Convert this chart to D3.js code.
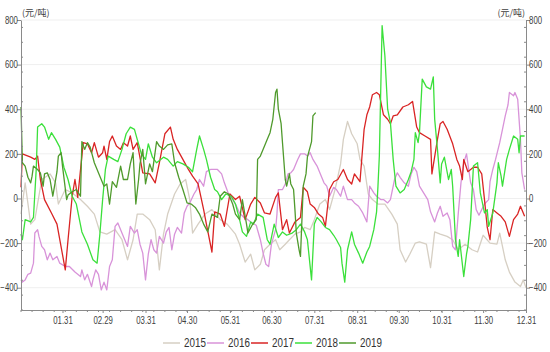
<!DOCTYPE html>
<html>
<head>
<meta charset="utf-8">
<script src="https://cdn.jsdelivr.net/npm/d3@7"></script>
<style>
  body { margin: 0; background: #fff; }
  text { font-family: "Liberation Sans", Arial, sans-serif; fill: #404040; }
</style>
</head>
<body>
<div id="viz"></div>
<script>
var years = ['2015', '2016', '2017', '2018', '2019'];
var colors = ['#d6cfc3', '#d893d9', '#d92424', '#3be03b', '#4f9a2c'];

// [day of year, value]
var s2015 = [[0,-70],[3,70],[7,-115],[10,-95],[15,85],[21,110],[25,70],[27,-25],[32,40],[37,25],[43,-5],[48,-35],
  [53,-70],[57,-150],[62,-160],[68,-140],[73,-185],[77,-275],[81,-185],[84,-70],[88,-70],[93,-95],[97,-140],[100,-320],
  [103,-160],[106,-70],[111,20],[115,65],[119,85],[122,-5],[124,-155],[128,-115],[133,-70],[138,-50],[144,-95],[149,-115],
  [155,-160],[158,-205],[162,-285],[166,-250],[169,-320],[173,-295],[176,-230],[180,-205],[184,-185],[187,-230],[191,-205],
  [194,-185],[198,-160],[202,-150],[205,-130],[209,-140],[212,-95],[216,-25],[220,-5],[223,-50],[227,40],[231,155],
  [233,265],[236,345],[239,290],[243,245],[245,175],[248,145],[251,20],[254,-5],[258,-25],[263,-25],[268,-70],[272,-115],
  [274,-230],[278,-285],[281,-250],[285,-200],[288,-195],[293,-205],[296,-310],[299,-150],[303,-160],[308,-170],[312,-185],
  [316,-230],[321,-205],[326,-230],[330,-240],[334,-165],[339,-200],[344,-205],[346,-155],[350,-275],[353,-330],[357,-375],
  [361,-395],[363,-365],[365,-400]];

var s2016 = [[0,-365],[1,-375],[3,-365],[5,-340],[7,-335],[9,-290],[10,-155],[12,-140],[13,-170],[15,-215],[17,-230],
  [19,-275],[21,-245],[23,-275],[26,-260],[28,-290],[32,-305],[35,-305],[39,-330],[43,-350],[44,-320],[46,-365],[48,-340],
  [51,-395],[52,-365],[54,-320],[56,-340],[58,-410],[60,-375],[62,-410],[64,-305],[66,-275],[68,-125],[70,-110],[72,-140],
  [74,-170],[77,-215],[79,-125],[82,-155],[84,-140],[86,-205],[88,-245],[90,-365],[92,-250],[94,-185],[96,-230],[98,-245],
  [100,-170],[103,-200],[105,-150],[107,-130],[109,-230],[111,-160],[113,-130],[116,-155],[118,-65],[120,-35],[122,-20],
  [125,20],[127,40],[129,85],[132,55],[134,120],[137,130],[140,130],[142,130],[145,110],[147,70],[150,20],[153,-5],
  [155,-25],[158,-65],[161,-85],[164,-95],[167,-110],[170,-120],[173,-185],[175,-245],[177,-295],[179,-305],[181,-205],
  [184,-140],[185,-70],[186,40],[189,40],[191,65],[193,110],[195,115],[197,130],[200,175],[202,200],[205,200],[207,190],
  [209,205],[211,175],[214,145],[216,115],[219,70],[221,55],[223,10],[226,50],[228,40],[231,10],[233,55],[236,-5],
  [239,-5],[241,-20],[244,-35],[247,-65],[250,-105],[252,55],[255,25],[257,10],[260,-5],[262,-5],[265,-20],[267,-5],
  [270,85],[272,115],[274,95],[277,70],[280,55],[282,110],[284,140],[286,120],[288,55],[291,25],[294,-5],[296,-60],
  [299,-105],[301,-65],[303,-35],[305,-80],[308,-65],[310,-95],[312,-215],[314,-230],[316,-70],[318,70],[320,160],
  [322,200],[325,70],[327,40],[329,-50],[331,-75],[333,-50],[335,-25],[338,-5],[339,75],[341,130],[343,175],[346,250],
  [348,310],[350,370],[352,420],[353,475],[356,460],[357,475],[359,445],[361,265],[362,115],[364,40]];

var s2017 = [[0,50],[1,200],[7,185],[10,175],[12,190],[14,85],[17,-5],[22,-65],[26,-115],[32,-320],[34,-185],[37,10],
  [39,85],[41,5],[45,250],[48,245],[51,205],[53,250],[56,185],[59,205],[60,235],[62,175],[64,255],[66,280],[69,235],
  [72,220],[74,250],[77,235],[79,280],[81,220],[84,250],[88,115],[93,110],[97,70],[100,160],[104,290],[108,320],[110,265],
  [113,220],[117,175],[121,130],[124,100],[128,65],[132,-50],[134,-115],[138,-240],[140,-60],[144,-70],[147,-125],
  [151,20],[155,-5],[158,10],[162,-95],[166,-25],[169,5],[173,-20],[176,-65],[180,-70],[184,5],[186,25],[189,-140],
  [192,-95],[194,-155],[198,-105],[202,-85],[204,50],[207,30],[209,-25],[212,-40],[215,-70],[218,-85],[220,-125],
  [223,40],[226,75],[229,85],[233,130],[236,85],[239,65],[241,110],[245,75],[248,310],[250,375],[252,410],[254,465],
  [257,475],[259,465],[262,375],[265,355],[267,335],[269,370],[272,375],[276,410],[280,420],[283,435],[286,320],
  [288,295],[292,280],[296,265],[297,110],[301,265],[303,335],[305,345],[308,310],[312,245],[315,175],[317,145],
  [319,85],[320,175],[323,120],[327,140],[330,140],[333,110],[335,-5],[337,-130],[339,-185],[341,-50],[344,-65],
  [347,-80],[350,-105],[353,-170],[356,-95],[359,-70],[361,-35],[364,-80]];

var s2018 = [[0,-160],[1,-185],[3,-95],[7,-105],[9,-85],[11,130],[12,320],[15,335],[17,320],[20,265],[22,295],[25,265],
  [28,230],[31,140],[34,85],[37,10],[40,-25],[44,-150],[48,-205],[52,-275],[55,-290],[57,-160],[59,-5],[61,130],[63,190],
  [67,175],[70,165],[73,220],[76,290],[79,320],[82,310],[84,265],[87,200],[90,175],[92,245],[95,185],[98,160],[103,185],
  [106,175],[110,145],[113,165],[117,155],[121,140],[124,120],[127,220],[129,280],[132,220],[134,175],[137,95],[140,40],
  [142,30],[145,-5],[148,20],[152,10],[155,-25],[158,-95],[160,-150],[163,-170],[166,-105],[168,-115],[171,-70],
  [175,-85],[178,-185],[180,-205],[183,-115],[186,-175],[189,-150],[192,-165],[196,-155],[199,-140],[202,-115],
  [205,-150],[207,-185],[210,-365],[212,-115],[214,-85],[217,-105],[220,-130],[223,-140],[226,-165],[228,-185],
  [231,-220],[232,-290],[234,-375],[236,-230],[239,-150],[241,-205],[244,-245],[247,-290],[250,-240],[252,-215],
  [255,-140],[257,-60],[258,55],[259,190],[261,775],[263,640],[265,400],[267,340],[269,175],[271,55],[274,25],[277,40],
  [280,85],[282,120],[284,175],[285,295],[287,250],[288,295],[290,535],[293,500],[296,490],[298,545],[299,355],
  [301,220],[303,70],[304,155],[306,185],[309,85],[311,130],[312,55],[314,-185],[316,-260],[317,-185],[320,-350],
  [322,-250],[323,-215],[325,-95],[327,145],[330,160],[332,25],[335,-65],[337,-50],[338,-125],[341,-65],[344,70],
  [345,160],[347,100],[348,55],[351,175],[353,220],[356,280],[359,265],[360,205],[361,280],[364,280]];

var s2019 = [[0,410],[1,160],[3,145],[5,95],[7,70],[8,100],[9,145],[12,130],[14,115],[16,55],[17,110],[19,115],[21,85],
  [23,10],[26,120],[27,190],[29,205],[30,145],[33,-5],[34,15],[37,30],[40,40],[43,10],[44,255],[46,220],[48,250],
  [50,230],[53,160],[55,130],[57,100],[60,55],[62,65],[64,-25],[66,75],[69,50],[72,145],[74,85],[77,85],[79,155],
  [81,205],[83,-25],[85,85],[86,155],[88,220],[90,65],[93,155],[95,120],[98,255],[100,235],[103,220],[106,240],
  [109,245],[111,160],[114,95],[117,40],[120,-20],[123,-25],[126,-40],[129,-70],[132,-115],[135,-150],[138,-70],
  [142,-85],[144,10],[147,30],[150,20],[153,-25],[155,-70],[158,-95],[160,-5],[163,-115],[164,-155],[167,-120],
  [170,-95],[171,175],[173,190],[176,235],[178,265],[180,295],[182,355],[184,475],[185,490],[186,400],[188,335],
  [189,250],[191,85],[192,55],[194,110],[195,65],[197,40],[198,-50],[199,-155],[201,-230],[202,-260],[204,55],
  [206,110],[207,185],[210,255],[211,370],[213,385]];

var yTicks = [-400, -200, 0, 200, 400, 600, 800];
var xLabels = ['01.31', '02.29', '03.31', '04.30', '05.31', '06.30', '07.31', '08.31', '09.30', '10.31', '11.30', '12.31'];
var unit = '(元/吨)';

var width = 550,
    height = 352;

var start = new Date(2016, 0, 1);
var x = d3.scaleTime()
    .domain([start, new Date(2016, 11, 31)])
    .range([21, 526]);
var y = d3.scaleLinear()
    .domain([-500, 800])
    .range([310, 20]);

var parseLabel = d3.timeParse('%Y.%m.%d');
var labelDates = xLabels.map(function(s) { return parseLabel('2016.' + s); });

var svg = d3.select('#viz').append('svg')
    .attr('width', width)
    .attr('height', height)
    .style('background', '#fff');

// grid
svg.append('g').selectAll('line').data(yTicks)
  .enter().append('line')
    .attr('x1', 21).attr('x2', 526)
    .attr('y1', function(d) { return y(d); })
    .attr('y2', function(d) { return y(d); })
    .style('stroke', '#efefef');

// lines
var line = d3.line()
    .x(function(d) { return x(d3.timeDay.offset(start, d[0])); })
    .y(function(d) { return y(d[1]); });

[s2015, s2016, s2017, s2018, s2019].forEach(function(s, i) {
  svg.append('path')
      .datum(s)
      .attr('d', line)
      .style('fill', 'none')
      .style('stroke', colors[i])
      .style('stroke-width', 1.3)
      .style('stroke-linejoin', 'round');
});

// axes; the reference font is narrow, so squeeze labels horizontally
function styleAxis(g, size, squeeze) {
  g.selectAll('path, line').style('stroke', '#8a8a8a');
  g.selectAll('text')
      .style('font-size', size + 'px')
      .style('fill', '#404040')
      .attr('transform', 'scale(' + squeeze + ',1)');
}

var minorY = d3.range(-500, 800.1, 200 / 3);

var left = svg.append('g')
    .attr('transform', 'translate(21,0)')
    .call(d3.axisLeft(y).tickValues(yTicks).tickSize(4).tickPadding(0).tickSizeOuter(0));
left.selectAll('.minor').data(minorY)
  .enter().append('line')
    .attr('x1', 0).attr('x2', 2)
    .attr('y1', function(d) { return y(d); })
    .attr('y2', function(d) { return y(d); });
styleAxis(left, 10, 0.78);

var right = svg.append('g')
    .attr('transform', 'translate(526,0)')
    .call(d3.axisRight(y).tickValues(yTicks).tickSize(4).tickPadding(0).tickSizeOuter(0));
right.selectAll('.minor').data(minorY)
  .enter().append('line')
    .attr('x1', 0).attr('x2', -2)
    .attr('y1', function(d) { return y(d); })
    .attr('y2', function(d) { return y(d); });
styleAxis(right, 10, 0.78);

var bottom = svg.append('g')
    .attr('transform', 'translate(0,310)')
    .call(d3.axisBottom(x).tickValues(labelDates).tickSize(3).tickPadding(4).tickSizeOuter(0)
      .tickFormat(function(d, i) { return xLabels[i]; }));
bottom.selectAll('.minor').data(d3.range(0, 366, 8))
  .enter().append('line')
    .attr('x1', function(d) { return x(d3.timeDay.offset(start, d)); })
    .attr('x2', function(d) { return x(d3.timeDay.offset(start, d)); })
    .attr('y1', 0).attr('y2', 2);
styleAxis(bottom, 10, 0.78);

// units
svg.append('text')
    .attr('x', 22).attr('y', 16)
    .style('font-family', '"Noto Sans CJK SC", sans-serif')
    .style('font-size', '9px')
    .text(unit);
svg.append('text')
    .attr('x', 525).attr('y', 16)
    .attr('text-anchor', 'end')
    .style('font-family', '"Noto Sans CJK SC", sans-serif')
    .style('font-size', '9px')
    .text(unit);

// legend
var legend = svg.append('g').selectAll('g').data(years)
  .enter().append('g')
    .attr('transform', function(d, i) { return 'translate(' + (163 + i * 44) + ',343)'; });
legend.append('line')
    .attr('x1', 0).attr('x2', 17)
    .style('stroke', function(d, i) { return colors[i]; })
    .style('stroke-width', 1.5);
legend.append('text')
    .attr('transform', 'translate(21,0) scale(0.82,1)')
    .attr('dy', '0.35em')
    .style('font-size', '12px')
    .style('fill', '#333')
    .text(function(d) { return d; });
</script>
</body>
</html>
